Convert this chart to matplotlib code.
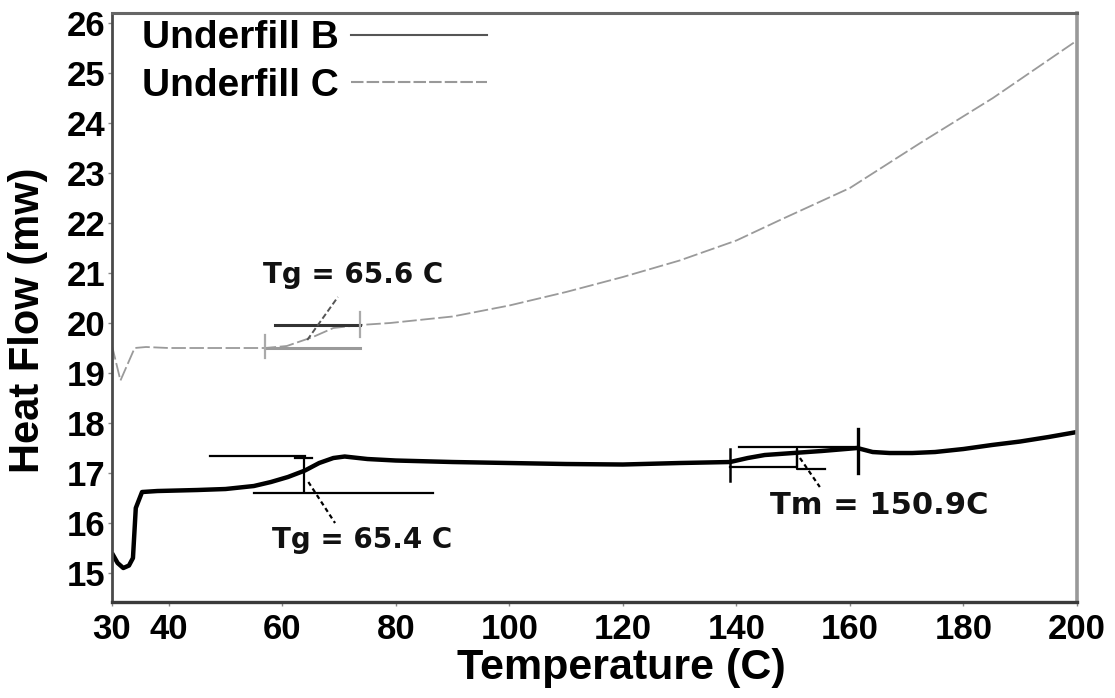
import numpy as np
import matplotlib
matplotlib.use('Agg')
import matplotlib.pyplot as plt
from matplotlib.lines import Line2D

# Underfill B (solid, black)
temp_b = [30, 31, 32, 33, 33.7, 34.2, 35.3, 38, 45, 50, 55, 58, 61, 64, 66.5, 69, 71, 75, 80,
          90, 100, 110, 120, 130, 138.9, 142, 145, 150, 155, 161.3, 164, 167, 171, 175, 180,
          185, 190, 195, 200]
flow_b = [15.4, 15.2, 15.1, 15.15, 15.3, 16.3, 16.62, 16.64, 16.66, 16.68, 16.74, 16.82, 16.92,
          17.05, 17.2, 17.3, 17.33, 17.28, 17.25, 17.22, 17.2, 17.18, 17.17, 17.2, 17.22, 17.3,
          17.36, 17.4, 17.44, 17.5, 17.42, 17.4, 17.4, 17.42, 17.48, 17.56, 17.63, 17.72, 17.82]

# Underfill C (dashed, grey)
temp_c = [30, 31.5, 34, 36, 40, 45, 50, 55, 57, 60.8, 65.4, 69, 73.7, 79, 90, 100, 110, 120,
          130, 140, 147.7, 160, 172.4, 185.2, 200]
flow_c = [19.55, 18.85, 19.5, 19.52, 19.5, 19.5, 19.5, 19.5, 19.5, 19.54, 19.72, 19.9, 19.96,
          20.0, 20.13, 20.35, 20.62, 20.92, 21.25, 21.65, 22.06, 22.7, 23.6, 24.5, 25.65]

x_ticks = [30, 40, 60, 80, 100, 120, 140, 160, 180, 200]
y_ticks = list(range(15, 27))

# tangent construction lines, Tg of B
tg_b_upper = ([47.3, 64], [17.34, 17.34])
tg_b_lower = ([55, 86.6], [16.6, 16.6])
tg_b_vert = ([63.8, 63.8], [16.62, 17.3])
tg_b_bar = ([62.2, 65.3], [17.3, 17.3])
tg_b_lead = ([64.6, 69.3], [16.82, 16.0])

# tangent construction lines, Tg of C
tg_c_upper = ([58.7, 73.7], [19.96, 19.96])
tg_c_lower = ([57, 73.7], [19.5, 19.5])
tg_c_left = ([57, 57], [19.3, 19.76])
tg_c_right = ([73.7, 73.7], [19.72, 20.22])
tg_c_lead = ([64.4, 69.8], [19.66, 20.52])

# Tm construction for B
tm_left = ([138.9, 138.9], [16.84, 17.48])
tm_right = ([161.4, 161.4], [17.0, 17.88])
tm_upper = ([140.5, 161.2], [17.52, 17.52])
tm_lower = ([138.9, 150.7, 150.7, 150.7, 155.6], [17.12, 17.12, 17.48, 17.08, 17.08])
tm_lead = ([151.2, 154.7], [17.3, 16.72])

fig = plt.figure(figsize=(11.15, 6.98), dpi=100)
ax = fig.add_axes([0.1004, 0.1375, 0.8655, 0.8439])

ax.plot(temp_c, flow_c, color='#9a9a9a', lw=1.3, dashes=(8, 2))
ax.plot(temp_b, flow_b, color='black', lw=3.2, solid_capstyle='butt')

for seg in [tg_b_upper, tg_b_lower, tg_b_vert, tg_b_bar]:
    ax.plot(*seg, color='black', lw=1.6)
ax.plot(*tg_b_lead, color='black', lw=1.6, dashes=(2, 1.5))

ax.plot(*tg_c_upper, color='#333333', lw=2.2)
ax.plot(*tg_c_lower, color='#9a9a9a', lw=2.2)
ax.plot(*tg_c_left, color='#aaaaaa', lw=1.6)
ax.plot(*tg_c_right, color='#aaaaaa', lw=1.6)
ax.plot(*tg_c_lead, color='#555555', lw=1.4, dashes=(3, 1.5))

ax.plot(*tm_left, color='black', lw=1.8)
ax.plot(*tm_right, color='black', lw=2.4)
ax.plot(*tm_upper, color='black', lw=1.6)
ax.plot(*tm_lower, color='black', lw=1.6)
ax.plot(*tm_lead, color='black', lw=1.6, dashes=(2, 1.5))

ax.text(58.2, 15.66, 'Tg = 65.4 C', fontsize=20, fontweight='bold', family='DejaVu Sans',
        ha='left', va='center', color='#111111')
ax.text(56.6, 20.96, 'Tg = 65.6 C', fontsize=20, fontweight='bold', family='DejaVu Sans',
        ha='left', va='center', color='#111111')
ax.text(145.9, 16.36, 'Tm = 150.9C', fontsize=22, fontweight='bold', family='DejaVu Sans',
        ha='left', va='center', color='#111111')

handles = [Line2D([], [], color='#555555', lw=1.5),
           Line2D([], [], color='#999999', lw=1.5, dashes=(6, 1.5))]
ax.legend(handles, ['Underfill B', 'Underfill C'], loc='upper left', frameon=False,
          markerfirst=False, handlelength=3.5, handletextpad=0.3, labelspacing=0.3,
          borderaxespad=0.0, bbox_to_anchor=(0.015, 1.014),
          prop={'family': 'Liberation Sans', 'weight': 'bold', 'size': 28})

ax.set_xlim(30, 200)
ax.set_ylim(14.42, 26.2)
ax.set_xticks(x_ticks)
ax.set_yticks(y_ticks)
ax.tick_params(axis='both', direction='out', length=3, width=1, color='#888888')
ax.tick_params(axis='y', pad=2)
ax.tick_params(axis='x', pad=5)
for lab in ax.get_xticklabels() + ax.get_yticklabels():
    lab.set_family('Liberation Sans')
    lab.set_fontweight('bold')
    lab.set_fontsize(25)

ax.set_xlabel('Temperature (C)', fontsize=31, fontweight='bold', family='Liberation Sans')
ax.set_ylabel('Heat Flow (mw)', fontsize=30, fontweight='bold', family='Liberation Sans')
ax.xaxis.set_label_coords(0.528, -0.078)
ax.yaxis.set_label_coords(-0.066, 0.479)

ax.spines['left'].set_color('#4a4a4a')
ax.spines['left'].set_linewidth(2)
ax.spines['bottom'].set_color('#3a3a3a')
ax.spines['bottom'].set_linewidth(2.4)
ax.spines['top'].set_color('#666666')
ax.spines['top'].set_linewidth(2.2)
ax.spines['right'].set_color('#999999')
ax.spines['right'].set_linewidth(2.6)

fig.savefig('out.png', dpi=100)
